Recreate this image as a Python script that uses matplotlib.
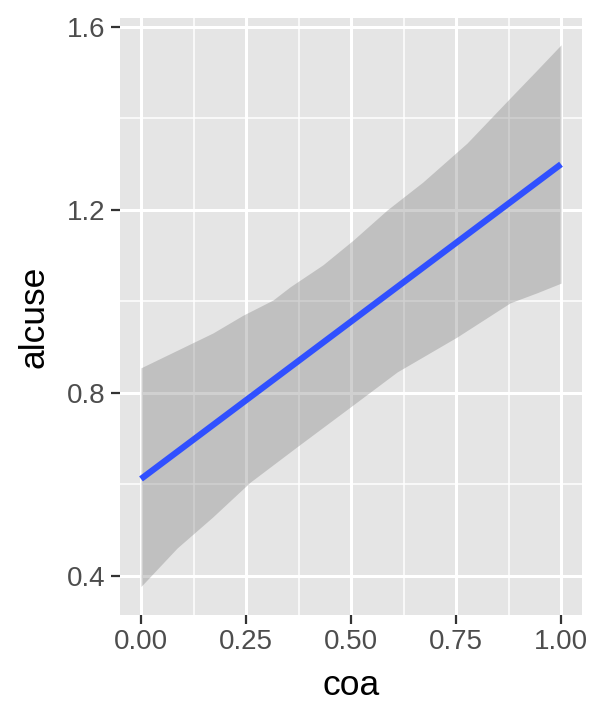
import matplotlib
matplotlib.use("Agg")
import matplotlib.pyplot as plt
import numpy as np

# fitted line (linear smooth)
line_x = [0.0, 1.0]
line_y = [0.612, 1.300]

# confidence band
upper_x = [0.0, 0.171, 0.243, 0.314, 0.355, 0.433, 0.505, 0.586, 0.671, 0.776, 0.879, 0.943, 1.0]
upper_y = [0.855, 0.931, 0.970, 1.003, 1.032, 1.080, 1.134, 1.200, 1.261, 1.346, 1.445, 1.506, 1.561]
lower_x = [0.0, 0.086, 0.171, 0.260, 0.371, 0.498, 0.610, 0.752, 0.879, 0.943, 1.0]
lower_y = [0.377, 0.461, 0.529, 0.605, 0.682, 0.769, 0.846, 0.922, 0.997, 1.019, 1.040]

x_ticks = [0.0, 0.25, 0.5, 0.75, 1.0]
x_labels = ["0.00", "0.25", "0.50", "0.75", "1.00"]
y_ticks = [0.4, 0.8, 1.2, 1.6]
y_labels = ["0.4", "0.8", "1.2", "1.6"]

plt.rcParams['font.family'] = ['Liberation Sans', 'DejaVu Sans']

fig = plt.figure(figsize=(6, 7.2), dpi=100)
ax = fig.add_axes([0.2, 0.146, 0.77, 0.829])
ax.set_facecolor('#E5E5E5')

# band: put both edges on one x grid
xs = np.union1d(upper_x, lower_x)
up = np.interp(xs, upper_x, upper_y)
lo = np.interp(xs, lower_x, lower_y)
ax.fill_between(xs, lo, up, color='#8A8A8A', alpha=0.4, linewidth=0, zorder=2)
ax.plot(line_x, line_y, color='#3050FF', linewidth=4.5, solid_capstyle='butt', zorder=3)

ax.set_xlim(-0.05, 1.05)
ax.set_ylim(0.3148, 1.6197)
ax.set_xticks(x_ticks)
ax.set_xticklabels(x_labels)
ax.set_yticks(y_ticks)
ax.set_yticklabels(y_labels)
ax.set_xticks([0.125, 0.375, 0.625, 0.875], minor=True)
ax.set_yticks([0.6, 1.0, 1.4], minor=True)

ax.grid(which='major', color='white', linewidth=2.2, zorder=1)
ax.grid(which='minor', color='white', linewidth=1.1, zorder=1)
ax.set_axisbelow(True)
for s in ax.spines.values():
    s.set_visible(False)

ax.tick_params(which='major', length=6.3, width=1.6, color='#333333',
               labelsize=20, labelcolor='#4D4D4D', pad=4)
ax.tick_params(which='minor', length=0)

ax.set_xlabel('coa', fontsize=25.5, color='black', labelpad=10)
ax.set_ylabel('alcuse', fontsize=25.5, color='black', labelpad=12)

fig.savefig('out.png', dpi=100)
